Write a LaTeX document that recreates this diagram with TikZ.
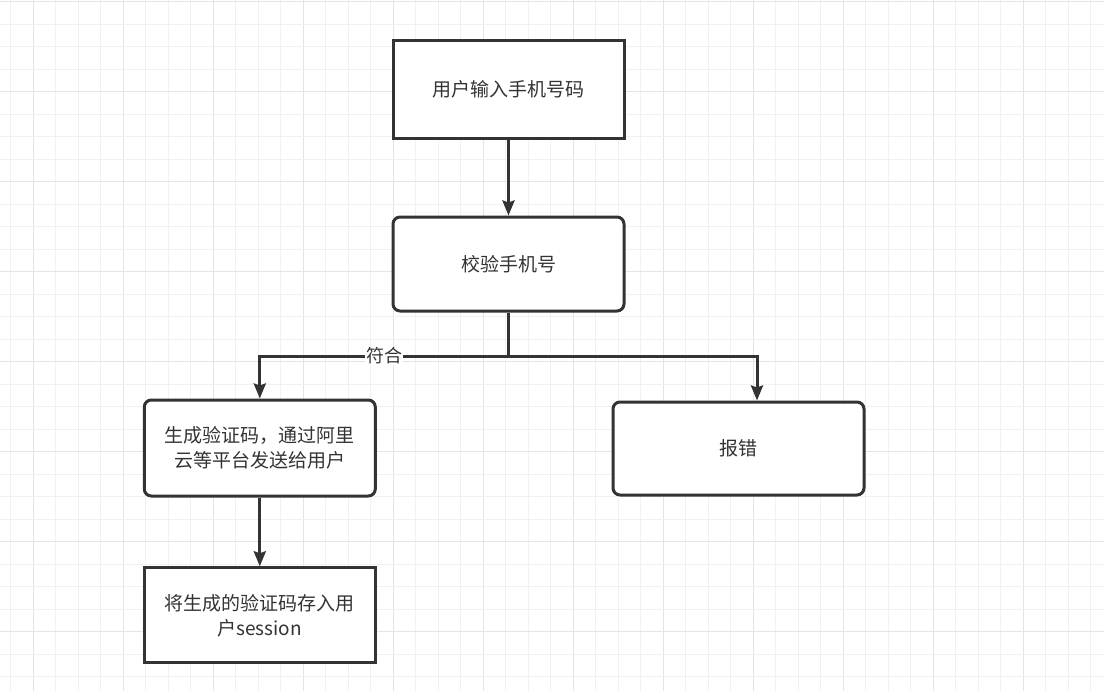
\documentclass[tikz,border=0pt]{standalone}
\usepackage{fontspec}
\setmainfont{Noto Sans CJK SC}
\usetikzlibrary{arrows.meta,positioning}
\definecolor{ink}{HTML}{333333}
\definecolor{gridminor}{HTML}{F1F1F1}
\definecolor{gridmajor}{HTML}{E4E4E4}
\begin{document}
\begin{tikzpicture}[x=1pt, y=-1pt,
    box/.style = {draw=ink, line width=3pt, fill=white, text=ink, align=center,
                  minimum width=231pt, font=\fontsize{19}{25}\selectfont},
    roundbox/.style = {box, rounded corners=7pt},
    arr/.style = {draw=ink, line width=3pt, -{Stealth[length=15pt,width=12pt,inset=2pt]}}]

    \useasboundingbox (0,0) rectangle (1104,691);
    \fill[white] (0,0) rectangle (1104,691);

    % background grid
    \foreach \i in {0,...,48} {
        \pgfmathsetmacro{\gx}{10.8+22.5*\i}
        \pgfmathtruncatemacro{\gm}{mod(\i+3,4)}
        \ifnum\gm=0
            \draw[gridmajor, line width=1.4pt] (\gx,0) -- (\gx,691);
        \else
            \draw[gridminor, line width=1pt] (\gx,0) -- (\gx,691);
        \fi
    }
    \foreach \j in {0,...,30} {
        \pgfmathsetmacro{\gy}{1.7+22.5*\j}
        \pgfmathtruncatemacro{\gm}{mod(\j,4)}
        \ifnum\gm=0
            \draw[gridmajor, line width=1.4pt] (0,\gy) -- (1104,\gy);
        \else
            \draw[gridminor, line width=1pt] (0,\gy) -- (1104,\gy);
        \fi
    }

    \node[box, minimum height=98pt] (input) at (508.5,89.3) {用户输入手机号码};
    \node[roundbox, minimum height=94pt] (check) [below of=input, node distance=174.7pt] {校验手机号};
    \node[roundbox, minimum height=96pt] (send) at (259.8,448) {生成验证码，通过阿里\\云等平台发送给用户};
    \node[box, minimum height=95pt] (store) [below of=send, node distance=167.3pt] {将生成的验证码存入用\\户session};
    \node[roundbox, minimum height=93pt, minimum width=251pt] (error) at (738.5,448.5) {报错};

    \coordinate (split) at (508.5,356);
    \coordinate (errin) at ([xshift=18.5pt]error.north);

    \draw[arr] (input) -- (check);
    \draw[draw=ink, line width=3pt] (check) -- (split);
    \draw[arr] (split) -| (send) node [pos=0.25, fill=white, text=ink, inner sep=1pt, font=\fontsize{18}{18}\selectfont] {符合};
    \draw[arr] (split) -| (errin);
    \draw[arr] (send) -- (store);

\end{tikzpicture}
\end{document}
